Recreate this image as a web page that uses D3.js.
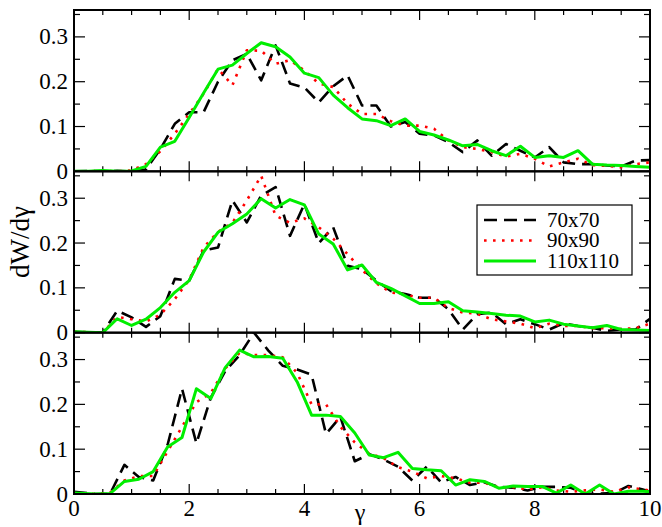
<!DOCTYPE html>
<html>
<head>
<meta charset="utf-8">
<script src="https://d3js.org/d3.v7.min.js"></script>
<style>
  body { margin: 0; background: #fff; }
</style>
</head>
<body>
<div id="chart"></div>
<script>
// x grids (gamma)
const xGridA = [0, 0.25, 0.5, 0.75, 1, 1.25, 1.5, 1.75, 2, 2.25, 2.5, 2.75, 3, 3.25, 3.5, 3.75, 4, 4.25, 4.5, 4.75, 5,
  5.25, 5.5, 5.75, 6, 6.25, 6.5, 6.75, 7, 7.25, 7.5, 7.75, 8, 8.25, 8.5, 8.75, 9, 9.25, 9.5, 9.75, 10]
const xGridB = [0, 0.375, 0.625, 0.875, 1.125, 1.375, 1.625, 1.875, 2.125, 2.375, 2.625, 2.875, 3.125, 3.375, 3.625,
  3.875, 4.125, 4.375, 4.625, 4.875, 5.125, 5.375, 5.625, 5.875, 6.125, 6.375, 6.625, 6.875, 7.125, 7.375, 7.625,
  7.875, 8.125, 8.375, 8.625, 8.875, 9.125, 9.375, 9.625, 9.875, 10]

// top panel
const top70 = [0, 0.001, 0, 0.001, 0, 0.004, 0.05, 0.106, 0.132, 0.132, 0.2, 0.248, 0.262, 0.203, 0.281, 0.196, 0.187,
  0.154, 0.19, 0.214, 0.147, 0.147, 0.1, 0.11, 0.084, 0.08, 0.065, 0.043, 0.069, 0.035, 0.061, 0.046, 0.031, 0.054,
  0.02, 0.016, 0.016, 0.013, 0.011, 0.024, 0.025]
const top90 = [0, 0, 0.001, 0, 0.002, 0.016, 0.045, 0.084, 0.128, 0.173, 0.229, 0.192, 0.27, 0.269, 0.24, 0.248, 0.225,
  0.196, 0.188, 0.151, 0.128, 0.128, 0.112, 0.102, 0.102, 0.095, 0.069, 0.054, 0.05, 0.043, 0.033, 0.039, 0.028, 0.011,
  0.02, 0.028, 0.014, 0.012, 0.009, 0.016, 0.02]
const top110 = [0, 0, 0.002, 0, 0.001, 0.011, 0.054, 0.067, 0.12, 0.175, 0.228, 0.237, 0.263, 0.287, 0.278, 0.255, 0.219,
  0.209, 0.17, 0.142, 0.117, 0.113, 0.102, 0.117, 0.089, 0.081, 0.07, 0.057, 0.06, 0.046, 0.035, 0.056, 0.031, 0.035,
  0.031, 0.046, 0.016, 0.014, 0.013, 0.011, 0.009]

// middle panel
const mid70 = [0.002, 0.001, 0, 0.049, 0.034, 0.013, 0.037, 0.12, 0.116, 0.183, 0.19, 0.295, 0.246, 0.306, 0.325, 0.216,
  0.287, 0.2, 0.235, 0.149, 0.142, 0.116, 0.093, 0.086, 0.078, 0.078, 0.052, 0.007, 0.041, 0.045, 0.019, 0.03, 0.019,
  0.007, 0.021, 0.015, 0.011, 0.004, 0.007, 0.007, 0.031]
const mid90 = [0.002, 0.001, 0, 0.035, 0.03, 0.025, 0.04, 0.075, 0.118, 0.19, 0.225, 0.245, 0.295, 0.35, 0.261, 0.245,
  0.255, 0.235, 0.21, 0.175, 0.14, 0.11, 0.09, 0.085, 0.078, 0.078, 0.055, 0.045, 0.042, 0.03, 0.025, 0.02, 0.01, 0.02,
  0.015, 0.015, 0.01, 0.01, 0.008, 0.01, 0.02]
const mid110 = [0.002, 0.001, 0, 0.031, 0.016, 0.03, 0.056, 0.09, 0.116, 0.18, 0.224, 0.243, 0.265, 0.299, 0.278, 0.297,
  0.285, 0.22, 0.198, 0.14, 0.151, 0.112, 0.099, 0.082, 0.065, 0.065, 0.069, 0.049, 0.046, 0.043, 0.039, 0.037, 0.024,
  0.028, 0.019, 0.015, 0.011, 0.016, 0.007, 0.006, 0.005]

// bottom panel
const bot70 = [0.005, 0, 0, 0.065, 0.038, 0.03, 0.11, 0.235, 0.113, 0.215, 0.274, 0.31, 0.36, 0.32, 0.286, 0.278, 0.266,
  0.134, 0.172, 0.073, 0.089, 0.077, 0.061, 0.03, 0.061, 0.026, 0.038, 0.02, 0.026, 0.016, 0.014, 0.008, 0.016, 0.016,
  0.014, 0, 0.001, 0.002, 0.018, 0.01, 0.005]
const bot90 = [0.002, 0, 0.003, 0.03, 0.04, 0.04, 0.095, 0.15, 0.205, 0.225, 0.28, 0.315, 0.31, 0.31, 0.305, 0.27, 0.2,
  0.2, 0.15, 0.115, 0.09, 0.08, 0.06, 0.05, 0.035, 0.04, 0.035, 0.025, 0.025, 0.015, 0.015, 0.01, 0.015, 0.008, 0.005,
  0.008, 0.01, 0.005, 0.015, 0.01, 0.008]
const bot110 = [0.002, 0, 0.001, 0.028, 0.033, 0.05, 0.105, 0.126, 0.235, 0.213, 0.282, 0.321, 0.306, 0.307, 0.303,
  0.25, 0.176, 0.176, 0.173, 0.136, 0.087, 0.081, 0.093, 0.057, 0.054, 0.052, 0.02, 0.032, 0.028, 0.013, 0.018, 0.017,
  0.017, 0.002, 0.02, 0, 0.02, 0, 0.006, 0.006, 0.005]

const seriesNames = ["70x70", "90x90", "110x110"]
const xTickLabels = [0, 2, 4, 6, 8, 10]
const yTickLabels = [0, 0.1, 0.2, 0.3]

const panels = [
  { xs: xGridA, series: [top70, top90, top110] },
  { xs: xGridA, series: [mid70, mid90, mid110] },
  { xs: xGridB, series: [bot70, bot90, bot110] }
]

const styles = [
  { color: "#000", width: 2.6, dash: "13,7" },
  { color: "#ff0000", width: 2.6, dash: "2.6,6.4" },
  { color: "#00ee00", width: 3, dash: null }
]

const serif = "'Liberation Serif', 'Times New Roman', 'DejaVu Serif', serif"
const w = 662
const h = 527
const padL = 74, padR = 650, padT = 10, padB = 494
const ph = (padB - padT) / panels.length

const svg = d3.select("#chart").append("svg")
  .attr("width", w)
  .attr("height", h)
  .style("font-family", serif)

const x = d3.scaleLinear().domain([0, 10]).range([padL, padR])

panels.forEach((p, i) => {
  const y0 = padT + i * ph
  const y = d3.scaleLinear().domain([0, 0.36]).range([y0 + ph, y0])
  const g = svg.append("g")

  // clip
  svg.append("clipPath").attr("id", "clip" + i)
    .append("rect").attr("x", padL).attr("y", y0).attr("width", padR - padL).attr("height", ph)

  // ticks, inward on all four sides
  const xMinor = d3.range(0, 10.001, 0.5)
  const yMinor = d3.range(0, 0.3501, 0.05)
  const tickG = g.append("g").attr("stroke", "#000").attr("stroke-width", 1.2)
  xMinor.forEach(t => {
    const len = Math.abs(t % 2) < 1e-6 ? 10 : 5
    tickG.append("line").attr("x1", x(t)).attr("x2", x(t)).attr("y1", y0 + ph).attr("y2", y0 + ph - len)
    tickG.append("line").attr("x1", x(t)).attr("x2", x(t)).attr("y1", y0).attr("y2", y0 + len)
  })
  yMinor.forEach((t, k) => {
    const len = k % 2 === 0 ? 11 : 6
    tickG.append("line").attr("x1", padL).attr("x2", padL + len).attr("y1", y(t)).attr("y2", y(t))
    tickG.append("line").attr("x1", padR).attr("x2", padR - len).attr("y1", y(t)).attr("y2", y(t))
  })

  // y tick labels
  g.selectAll(".ylab").data(yTickLabels).enter().append("text")
    .attr("x", padL - 6)
    .attr("y", d => y(d))
    .attr("dy", "0.33em")
    .attr("text-anchor", "end")
    .attr("font-size", 23)
    .style("font-family", serif)
    .text(d => d === 0 ? "0" : d.toFixed(1))

  // lines
  const line = d3.line()
    .x((d, k) => x(p.xs[k]))
    .y(d => y(d))
  p.series.forEach((s, k) => {
    g.append("path")
      .datum(s)
      .attr("clip-path", `url(#clip${i})`)
      .attr("fill", "none")
      .attr("stroke", styles[k].color)
      .attr("stroke-width", styles[k].width)
      .attr("stroke-dasharray", styles[k].dash)
      .attr("stroke-linejoin", "round")
      .attr("d", line)
  })

  // frame
  g.append("rect")
    .attr("x", padL).attr("y", y0)
    .attr("width", padR - padL).attr("height", ph)
    .attr("fill", "none").attr("stroke", "#000").attr("stroke-width", 2)
})

// x tick labels
svg.selectAll(".xlab").data(xTickLabels).enter().append("text")
  .attr("x", d => x(d))
  .attr("y", padB + 22)
  .attr("text-anchor", "middle")
  .attr("font-size", 23)
  .style("font-family", serif)
  .text(d => d)

// axis titles
svg.append("text")
  .attr("x", (padL + padR) / 2 - 2)
  .attr("y", padB + 26)
  .attr("text-anchor", "middle")
  .attr("font-size", 24)
  .style("font-family", serif)
  .text("γ")

svg.append("text")
  .attr("transform", "translate(29,242)rotate(-90)")
  .attr("text-anchor", "middle")
  .attr("font-size", 27)
  .style("font-family", serif)
  .text("dW/dγ")

// legend
const lg = svg.append("g")
lg.append("rect")
  .attr("x", 477).attr("y", 205).attr("width", 155).attr("height", 70)
  .attr("fill", "#fff").attr("stroke", "#000").attr("stroke-width", 1.2)
seriesNames.forEach((name, k) => {
  const ly = 220 + k * 20.5
  lg.append("line")
    .attr("x1", 484).attr("x2", 536).attr("y1", ly).attr("y2", ly)
    .attr("stroke", styles[k].color)
    .attr("stroke-width", styles[k].width)
    .attr("stroke-dasharray", styles[k].dash)
  lg.append("text")
    .attr("x", 547).attr("y", ly).attr("dy", "0.33em")
    .attr("font-size", 21)
    .style("font-family", serif)
    .text(name)
})
</script>
</body>
</html>
